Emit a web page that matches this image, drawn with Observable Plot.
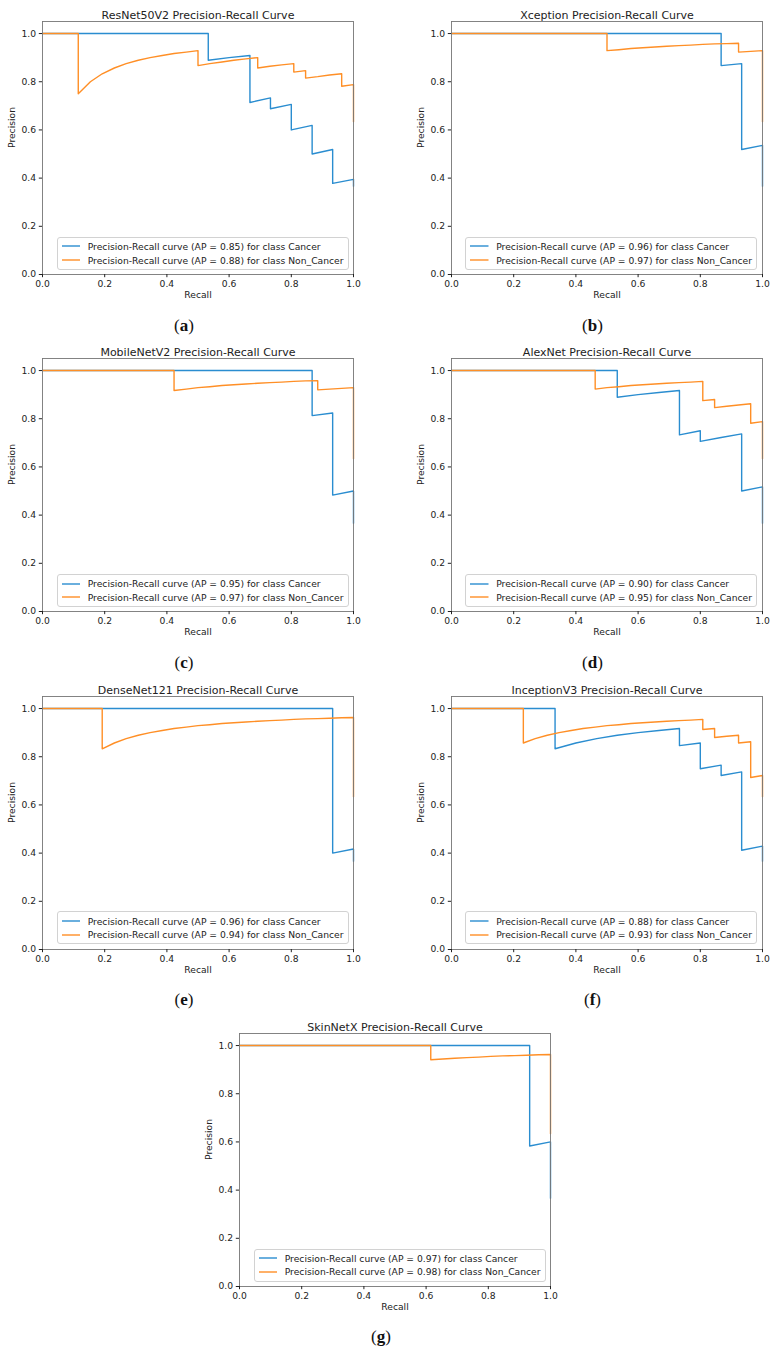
<!DOCTYPE html>
<html>
<head>
<meta charset="utf-8">
<script src="https://cdn.jsdelivr.net/npm/d3@7"></script>
<script src="https://cdn.jsdelivr.net/npm/@observablehq/plot@0.6"></script>
<style>
  body { margin: 0; background: #fff; }
  #fig { position: relative; width: 774px; height: 1356px; overflow: hidden; }
  .panel { position: absolute; width: 378px; height: 306px; }
  .legend {
    position: absolute; box-sizing: border-box;
    border: 1px solid #d2d2d2; border-radius: 3px; background: rgba(255,255,255,0.85);
    font: 9.2px "DejaVu Sans", sans-serif; color: #222; padding: 2px 4px 2px 4px;
  }
  .row { display: flex; align-items: center; height: 13.6px; white-space: nowrap; }
  .swatch { display: block; margin-right: 7.3px; }
  .sub { position: absolute; font: 17px "Liberation Serif", serif; color: #111; transform: translate(-50%, -50%); }
</style>
</head>
<body>
<div id="fig"></div>
<script>
// valeurs : [recall, precision]
const models = ["ResNet50V2", "Xception", "MobileNetV2", "AlexNet", "DenseNet121", "InceptionV3", "SkinNetX"]
const apCancer = ["0.85", "0.96", "0.95", "0.90", "0.96", "0.88", "0.97"]
const apNonCancer = ["0.88", "0.97", "0.97", "0.95", "0.94", "0.93", "0.98"]
const subLabels = ["a", "b", "c", "d", "e", "f", "g"]
const ticks = [0, 0.2, 0.4, 0.6, 0.8, 1.0]

const resnetCancer = [[0,1],[0.533,1],[0.533,0.889],[0.6,0.9],[0.667,0.909],[0.667,0.714],[0.733,0.733],[0.733,0.688],[0.8,0.706],[0.8,0.6],[0.867,0.619],[0.867,0.5],[0.933,0.519],[0.933,0.378],[1,0.395],[1,0.366]]
const resnetNonCancer = [[0,1],[0.115,1],[0.115,0.75],[0.154,0.8],[0.192,0.833],[0.231,0.857],[0.269,0.875],[0.308,0.889],[0.346,0.9],[0.385,0.909],[0.423,0.917],[0.462,0.923],[0.5,0.929],[0.5,0.867],[0.538,0.875],[0.577,0.882],[0.615,0.889],[0.654,0.895],[0.692,0.9],[0.692,0.857],[0.731,0.864],[0.769,0.87],[0.808,0.875],[0.808,0.84],[0.846,0.846],[0.846,0.815],[0.885,0.821],[0.923,0.828],[0.962,0.833],[0.962,0.781],[1,0.788],[1,0.634]]

const xceptionCancer = [[0,1],[0.867,1],[0.867,0.867],[0.933,0.875],[0.933,0.519],[1,0.536],[1,0.366]]
const xceptionNonCancer = [[0,1],[0.5,1],[0.5,0.929],[0.538,0.933],[0.577,0.938],[0.615,0.941],[0.654,0.944],[0.692,0.947],[0.731,0.95],[0.769,0.952],[0.808,0.955],[0.846,0.957],[0.885,0.958],[0.923,0.96],[0.923,0.923],[0.962,0.926],[1,0.929],[1,0.634]]

const mobilenetCancer = [[0,1],[0.867,1],[0.867,0.813],[0.933,0.824],[0.933,0.483],[1,0.5],[1,0.366]]
const mobilenetNonCancer = [[0,1],[0.423,1],[0.423,0.917],[0.462,0.923],[0.5,0.929],[0.538,0.933],[0.577,0.938],[0.615,0.941],[0.654,0.944],[0.692,0.947],[0.731,0.95],[0.769,0.952],[0.808,0.955],[0.846,0.957],[0.885,0.958],[0.885,0.92],[0.923,0.923],[0.962,0.926],[1,0.929],[1,0.634]]

const alexnetCancer = [[0,1],[0.533,1],[0.533,0.889],[0.6,0.9],[0.667,0.909],[0.733,0.917],[0.733,0.733],[0.8,0.75],[0.8,0.706],[0.867,0.722],[0.933,0.737],[0.933,0.5],[1,0.517],[1,0.366]]
const alexnetNonCancer = [[0,1],[0.462,1],[0.462,0.923],[0.5,0.929],[0.538,0.933],[0.577,0.938],[0.615,0.941],[0.654,0.944],[0.692,0.947],[0.731,0.95],[0.769,0.952],[0.808,0.955],[0.808,0.875],[0.846,0.88],[0.846,0.846],[0.885,0.852],[0.923,0.857],[0.962,0.862],[0.962,0.781],[1,0.788],[1,0.634]]

const densenetCancer = [[0,1],[0.933,1],[0.933,0.4],[1,0.417],[1,0.366]]
const densenetNonCancer = [[0,1],[0.192,1],[0.192,0.833],[0.231,0.857],[0.269,0.875],[0.308,0.889],[0.346,0.9],[0.385,0.909],[0.423,0.917],[0.462,0.923],[0.5,0.929],[0.538,0.933],[0.577,0.938],[0.615,0.941],[0.654,0.944],[0.692,0.947],[0.731,0.95],[0.769,0.952],[0.808,0.955],[0.846,0.957],[0.885,0.958],[0.923,0.96],[0.962,0.962],[1,0.963],[1,0.634]]

const inceptionCancer = [[0,1],[0.333,1],[0.333,0.833],[0.4,0.857],[0.467,0.875],[0.533,0.889],[0.6,0.9],[0.667,0.909],[0.733,0.917],[0.733,0.846],[0.8,0.857],[0.8,0.75],[0.867,0.765],[0.867,0.722],[0.933,0.737],[0.933,0.412],[1,0.429],[1,0.366]]
const inceptionNonCancer = [[0,1],[0.231,1],[0.231,0.857],[0.269,0.875],[0.308,0.889],[0.346,0.9],[0.385,0.909],[0.423,0.917],[0.462,0.923],[0.5,0.929],[0.538,0.933],[0.577,0.938],[0.615,0.941],[0.654,0.944],[0.692,0.947],[0.731,0.95],[0.769,0.952],[0.808,0.955],[0.808,0.913],[0.846,0.917],[0.846,0.88],[0.885,0.885],[0.923,0.889],[0.923,0.857],[0.962,0.862],[0.962,0.714],[1,0.722],[1,0.634]]

const skinnetCancer = [[0,1],[0.933,1],[0.933,0.583],[1,0.6],[1,0.366]]
const skinnetNonCancer = [[0,1],[0.615,1],[0.615,0.941],[0.654,0.944],[0.692,0.947],[0.731,0.95],[0.769,0.952],[0.808,0.955],[0.846,0.957],[0.885,0.958],[0.923,0.96],[0.962,0.962],[1,0.963],[1,0.634]]

const cancerCurves = [resnetCancer, xceptionCancer, mobilenetCancer, alexnetCancer, densenetCancer, inceptionCancer, skinnetCancer]
const nonCancerCurves = [resnetNonCancer, xceptionNonCancer, mobilenetNonCancer, alexnetNonCancer, densenetNonCancer, inceptionNonCancer, skinnetNonCancer]

const blue = "#2a8dd0"
const orange = "#ff8f26"

// position (coin haut-gauche) de chaque svg dans la figure
const pos = [[0, 0], [408.5, 0], [0, 337.3], [408.5, 337.3], [0, 674.6], [408.5, 674.6], [197, 1011.9]]

const fig = d3.select('#fig')

models.forEach((name, i) => {
  let chart = Plot.plot({
    width: 378,
    height: 306,
    marginLeft: 42,
    marginRight: 25,
    marginTop: 21,
    marginBottom: 32,
    style: {fontFamily: "'DejaVu Sans', sans-serif", fontSize: "9.2px", color: "#222", background: "transparent", overflow: "visible"},
    x: {domain: [0, 1]},
    y: {domain: [0, 1.05]},
    marks: [
      Plot.line(cancerCurves[i], {x: d => d[0], y: d => d[1], stroke: blue, strokeWidth: 1.4}),
      Plot.line(nonCancerCurves[i], {x: d => d[0], y: d => d[1], stroke: orange, strokeWidth: 1.4}),
      Plot.frame({stroke: "#777", strokeWidth: 0.9}),
      Plot.axisX({ticks: ticks, tickFormat: d3.format('.1f'), tickSize: 3.2, tickPadding: 3.2, label: null}),
      Plot.axisY({ticks: ticks, tickFormat: d3.format('.1f'), tickSize: 3.2, tickPadding: 3.2, label: null}),
      Plot.text([name + " Precision-Recall Curve"], {frameAnchor: "top", dy: -10, fontSize: 11}),
      Plot.text(["Recall"], {frameAnchor: "bottom", dy: 23}),
      Plot.text(["Precision"], {frameAnchor: "left", dx: -30, rotate: -90}),
    ],
  })

  const panel = fig.append('div').attr('class', 'panel')
    .style('left', pos[i][0] + 'px').style('top', pos[i][1] + 'px')
  panel.append(() => chart)

  // légende en bas à droite, comme matplotlib
  const legend = panel.append('div').attr('class', 'legend')
    .style('right', (25 + 4.5) + 'px').style('bottom', (32 + 4.2) + 'px')
  const rows = [
    [blue, `Precision-Recall curve (AP = ${apCancer[i]}) for class Cancer`],
    [orange, `Precision-Recall curve (AP = ${apNonCancer[i]}) for class Non_Cancer`],
  ]
  rows.forEach(([c, t]) => {
    const row = legend.append('div').attr('class', 'row')
    const sw = row.append('svg').attr('class', 'swatch').attr('width', 18.5).attr('height', 6)
    sw.append('line').attr('x1', 0).attr('x2', 18.5).attr('y1', 3).attr('y2', 3)
      .attr('stroke', c).attr('stroke-width', 1.4)
    row.append('span').text(t)
  })

  const lab = fig.append('div').attr('class', 'sub')
    .style('left', (pos[i][0] + 184) + 'px').style('top', (pos[i][1] + 325.5) + 'px')
  lab.append('span').text('(')
  lab.append('b').text(subLabels[i])
  lab.append('span').text(')')
})
</script>
</body>
</html>
